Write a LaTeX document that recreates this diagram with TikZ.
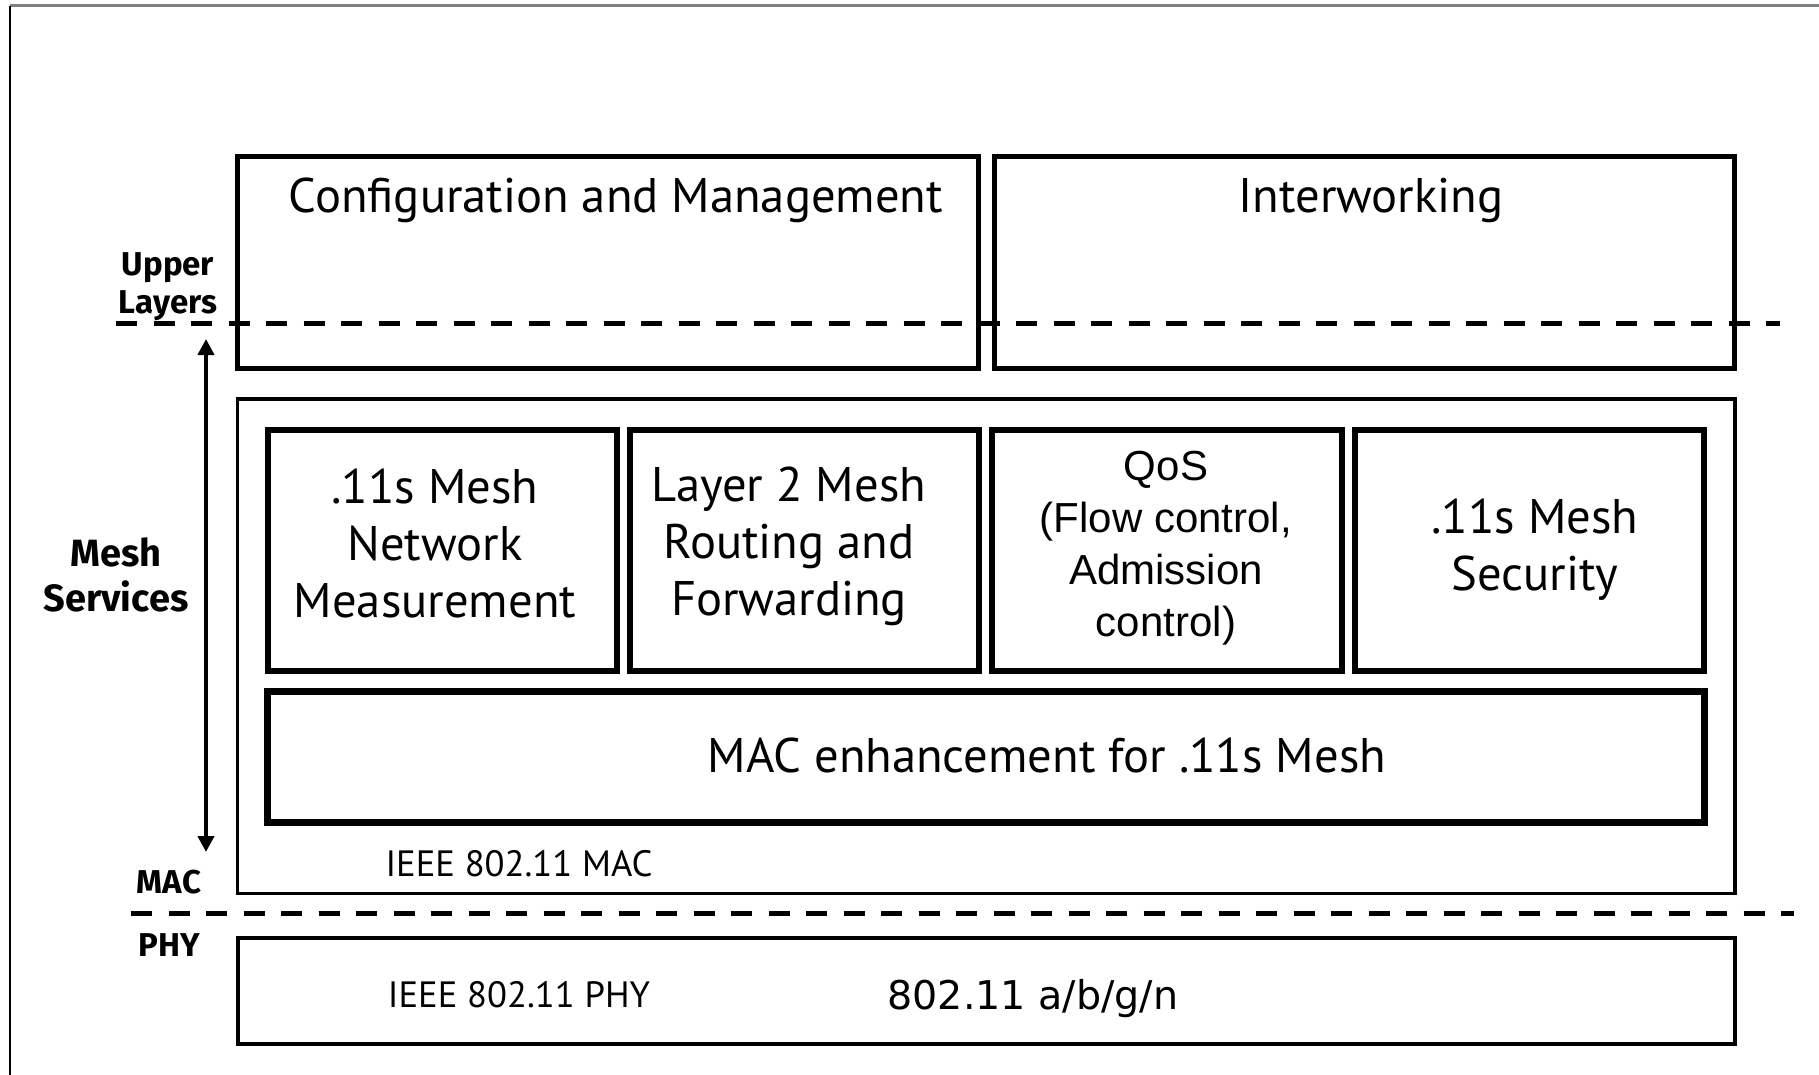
\documentclass[tikz,border=0pt]{standalone}
\usepackage{fontspec}
\setmainfont{PT Sans}
\newfontfamily\qosfont{Liberation Sans}
\newfontfamily\stdfont{DejaVu Sans}
\newfontfamily\labelfont{Fira Sans}
\usetikzlibrary{arrows.meta}

\tikzset{
  px/.style={x=0.5pt,y=-0.5pt},
  upbox/.style={draw,line width=2.5pt,inner sep=0pt,rectangle},
  layerbox/.style={draw,line width=1.75pt,inner sep=0pt,rectangle},
  svcbox/.style={draw,line width=3pt,inner sep=0pt,rectangle,
    minimum width=174.7pt,minimum height=120.65pt},
  macbox/.style={draw,line width=3.5pt,inner sep=0pt,rectangle},
  boxtext/.style={inner sep=0pt,align=center,font=\fontsize{24.3}{28.5}\selectfont},
  qostext/.style={inner sep=0pt,align=center,font=\qosfont\fontsize{21}{26}\selectfont},
  smalltext/.style={inner sep=0pt,font=\fontsize{18.3}{20}\selectfont},
  sidelabel/.style={inner sep=0pt,align=center,font=\labelfont\bfseries\fontsize{16.5}{19}\selectfont},
  boundary/.style={line width=2.5pt,dash pattern=on 10.5pt off 8.25pt},
  span/.style={line width=2pt,{Triangle[width=8pt,length=8pt]}-{Triangle[width=8pt,length=8pt]}}
}

\begin{document}
\begin{tikzpicture}[px]
\useasboundingbox (0,0) rectangle (1819,1075);

% page frame
\draw[gray,line width=1.5pt] (10,6) -- (1819,6);
\draw[line width=0.6pt] (10,6) -- (10,1075);

% upper layers
\node[upbox,minimum width=370.25pt,minimum height=105.75pt] (cfg) at (607.75,262.75) {};
\node[upbox,minimum width=370pt,minimum height=105.75pt] (inw) at (1364.5,262.75) {};
\node[boxtext,anchor=base] (cfgt) at (616,213) {Configuration and Management};
\node[boxtext,anchor=base] (inwt) at (1371,213) {Interworking};

% mesh services inside the MAC layer
\node[layerbox,minimum width=748.75pt,minimum height=247.25pt] (mac) at (986.25,646.25) {};
\node[svcbox] (s1) at (442.2,550.35) {};
\node[svcbox] (s2) at (804.6,550.35) {};
\node[svcbox] (s3) at (1167,550.35) {};
\node[svcbox] (s4) at (1529.4,550.35) {};
\node[boxtext] (s1t) at (435,543) {.11s Mesh\\Network\\Measurement};
\node[boxtext] (s2t) at (789,546) {Layer 2 Mesh\\Routing and\\Forwarding};
\node[qostext] (s3t) at (1166,548) {QoS\\(Flow control,\\Admission\\control)};
\node[boxtext] (s4t) at (1535,550) {.11s Mesh\\Security};
\node[macbox,minimum width=718.25pt,minimum height=65.25pt] (enh) at (985.75,756.75) {};
\node[boxtext] (enht) at (1047,755) {MAC enhancement for .11s Mesh};
\node[smalltext] (mact) at (519,864) {IEEE 802.11 MAC};

% physical layer
\node[layerbox,line width=2pt,minimum width=748.5pt,minimum height=52.75pt] (phy) at (986,990.75) {};
\node[smalltext] (phyt) at (519,995) {IEEE 802.11 PHY};
\node[inner sep=0pt,font=\stdfont\fontsize{19.8}{22}\selectfont] (abgn) at (1033,999) {802.11 a/b/g/n};

% layer boundaries
\coordinate (ua) at (116,323.5);
\coordinate (ub) at (1780,323.5);
\coordinate (la) at (131,913);
\coordinate (lb) at (1794,913);
\draw[boundary] (ua) -- (ub);
\draw[boundary] (la) -- (lb);

% side labels
\node[sidelabel] (lup) at (168,287) {Upper\\Layers};
\node[sidelabel,font=\labelfont\bfseries\fontsize{19}{22.5}\selectfont] (lmesh) at (116,575) {Mesh\\Services};
\node[sidelabel] (lmac) at (169,882) {MAC};
\node[sidelabel] (lphy) at (169,945) {PHY};

% extent of the mesh services
\coordinate (atop) at (206,339);
\coordinate (abot) at (206,852);
\draw[span] (atop) -- (abot);
\end{tikzpicture}
\end{document}
